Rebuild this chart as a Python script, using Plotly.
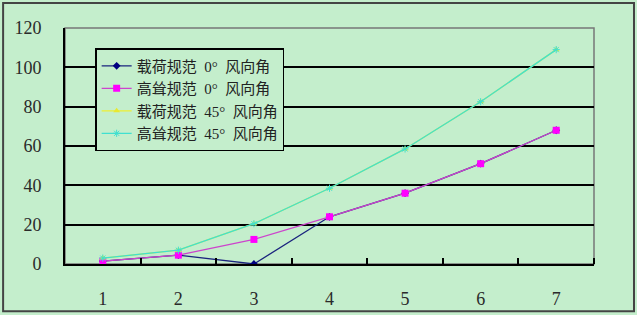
import plotly.graph_objects as go

x_vals = [1, 2, 3, 4, 5, 6, 7]
load_0 = [1.5, 4.5, 0, 24, 36, 51, 68]
hf_0 = [1.5, 4.5, 12.5, 24, 36, 51, 68]
load_45 = [3, 7, 20.5, 38.5, 58.5, 82.5, 109]
hf_45 = [3, 7, 20.5, 38.5, 58.5, 82.5, 109]
names = ["载荷规范  0°  风向角", "高耸规范  0°  风向角", "载荷规范  45°  风向角", "高耸规范  45°  风向角"]
y_ticks = [0, 20, 40, 60, 80, 100, 120]

bg = "rgb(196,238,204)"
font_fam = "Liberation Serif, Noto Sans CJK SC, serif"

fig = go.Figure()
fig.add_trace(go.Scatter(x=x_vals, y=load_0, name=names[0], mode="lines+markers",
                         line=dict(color="#1a237e", width=1.3),
                         marker=dict(symbol="diamond", size=6, color="#000080")))
fig.add_trace(go.Scatter(x=x_vals, y=hf_0, name=names[1], mode="lines+markers",
                         line=dict(color="#cc44cc", width=1.3),
                         marker=dict(symbol="square", size=7, color="#ff00ff")))
fig.add_trace(go.Scatter(x=x_vals, y=load_45, name=names[2], mode="lines+markers",
                         line=dict(color="#eeee33", width=1.3),
                         marker=dict(symbol="triangle-up", size=6, color="#e8e830")))
fig.add_trace(go.Scatter(x=x_vals, y=hf_45, name=names[3], mode="lines+markers",
                         line=dict(color="#40e0d0", width=1.3),
                         marker=dict(symbol="asterisk-open", size=6, color="#40e0d0",
                                     line=dict(width=1, color="#40e0d0"))))

fig.update_layout(
    width=637, height=315,
    margin=dict(l=65, r=43, t=28, b=51, autoexpand=False),
    paper_bgcolor=bg, plot_bgcolor=bg,
    font=dict(family=font_fam, size=18, color="#2a2a2a"),
    showlegend=True,
    legend=dict(x=0.057, y=0.915, xanchor="left", yanchor="top",
                bgcolor=bg, bordercolor="black", borderwidth=1.5,
                font=dict(size=15, color="#222222"),
                tracegroupgap=0, itemwidth=30),
    xaxis=dict(range=[0.5, 7.5], tickvals=x_vals, ticktext=[str(v) for v in x_vals],
               showgrid=False, zeroline=False, showline=True, linecolor="black", linewidth=2,
               ticks="", ticklabelstandoff=17, automargin=False,
               minor=dict(tickvals=[1.5, 2.5, 3.5, 4.5, 5.5, 6.5, 7.5], ticks="inside",
                          ticklen=6, tickwidth=2, tickcolor="black", showgrid=False),
               fixedrange=True),
    yaxis=dict(range=[0, 120], tickvals=y_ticks, showgrid=True, gridcolor="black", gridwidth=1.5,
               zeroline=False, showline=True, linecolor="black", linewidth=2,
               ticks="", ticklabelstandoff=18, automargin=False, fixedrange=True),
    shapes=[
        dict(type="rect", xref="x domain", yref="y domain", x0=0, x1=1, y0=0, y1=1,
             line=dict(color="#777777", width=1.5), layer="below"),
        dict(type="rect", xref="paper", yref="paper", x0=-0.117, x1=1.0756, y0=-0.2, y1=1.106,
             line=dict(color="#444444", width=2), layer="below"),
    ],
)

fig.write_html("out.html")
